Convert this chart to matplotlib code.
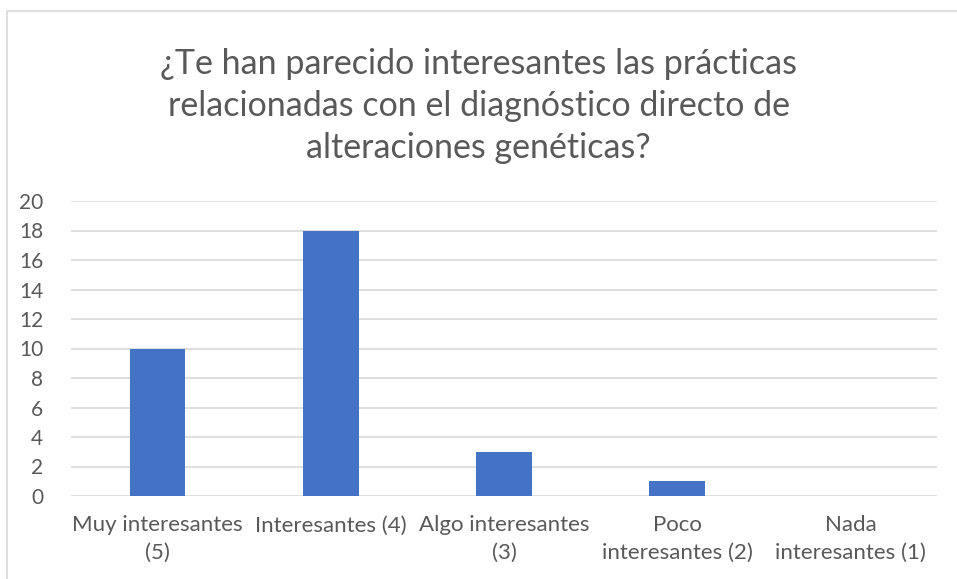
import matplotlib.pyplot as plt
from matplotlib.patches import Rectangle

categories = ["Muy interesantes\n(5)", "Interesantes (4)", "Algo interesantes\n(3)",
              "Poco\ninteresantes (2)", "Nada\ninteresantes (1)"]
values = [10, 18, 3, 1, 0]
yticks = list(range(0, 21, 2))
title = ("¿Te han parecido interesantes las prácticas\n"
         "relacionadas con el diagnóstico directo de\n"
         "alteraciones genéticas?")

plt.rcParams['font.family'] = ['Lato', 'DejaVu Sans']
W, H = 957, 579
fig = plt.figure(figsize=(W / 100, H / 100), dpi=100)
ax = fig.add_axes([71 / W, 1 - 496 / H, (937 - 71) / W, (496 - 201) / H])

# chart border (partially cropped in the original)
fig.patches.append(Rectangle((7 / W, -0.1), 1.2, 1.1 - 11 / H, transform=fig.transFigure,
                             fill=False, edgecolor="#d9d9d9", lw=1.2))

x = range(len(categories))
ax.bar(x, values, width=0.32, color="#4472C4", zorder=3)
ax.set_xlim(-0.5, len(categories) - 0.5)
ax.set_ylim(0, 20)
ax.set_yticks(yticks)
ax.set_xticks(list(x))
ax.set_xticklabels(categories, fontsize=16, color="#595959", linespacing=1.45)
ax.tick_params(axis="y", labelsize=15, colors="#595959", length=0, pad=20)
ax.tick_params(axis="x", length=0, pad=14)
ax.grid(axis="y", color="#d9d9d9", lw=1.2, zorder=0)
for s in ax.spines.values():
    s.set_visible(False)

fig.text(0.5, 1 - 106 / H, title, ha="center", va="center", fontsize=24.5,
         color="#595959", linespacing=1.4)

plt.savefig("out.png", dpi=100)
